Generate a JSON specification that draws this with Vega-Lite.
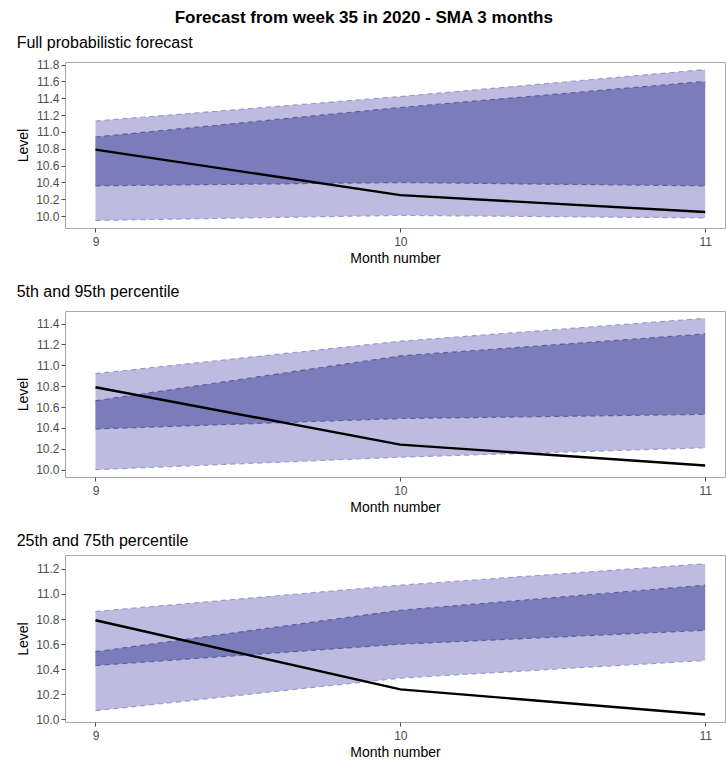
{
  "$schema": "https://vega.github.io/schema/vega-lite/v6.json",
  "padding": {"left": 16, "top": 9, "right": 0, "bottom": 0},
  "background": "white",
  "title": {"text": "Forecast from week 35 in 2020 - SMA 3 months", "font": "Liberation Sans", "fontSize": 17, "fontWeight": "bold", "color": "black", "anchor": "middle", "offset": 7, "dx": -7},
  "config": {
    "font": "Liberation Sans",
    "view": {"stroke": "#a8a8a8", "strokeWidth": 1},
    "axis": {"grid": false, "domain": false, "labelOverlap": false, "labelFont": "Liberation Sans", "labelFontSize": 12, "labelColor": "#4d4d4d", "tickColor": "#4d4d4d", "tickSize": 4, "labelPadding": 2, "titleFont": "Liberation Sans", "titleFontSize": 14, "titleFontWeight": "normal", "titleColor": "black"},
    "title": {"font": "Liberation Sans", "fontSize": 16, "fontWeight": "normal", "anchor": "start", "color": "black"},
    "concat": {"spacing": 17}
  },
  "data": {"values": [
    {"panel": "full", "month": 9, "oLo": 9.95, "oHi": 11.13, "iLo": 10.36, "iHi": 10.94, "level": 10.79},
    {"panel": "full", "month": 10, "oLo": 10.01, "oHi": 11.42, "iLo": 10.40, "iHi": 11.29, "level": 10.25},
    {"panel": "full", "month": 11, "oLo": 9.98, "oHi": 11.74, "iLo": 10.36, "iHi": 11.60, "level": 10.05},
    {"panel": "p5", "month": 9, "oLo": 10.0, "oHi": 10.92, "iLo": 10.39, "iHi": 10.66, "level": 10.79},
    {"panel": "p5", "month": 10, "oLo": 10.12, "oHi": 11.23, "iLo": 10.49, "iHi": 11.09, "level": 10.24},
    {"panel": "p5", "month": 11, "oLo": 10.21, "oHi": 11.45, "iLo": 10.53, "iHi": 11.30, "level": 10.04},
    {"panel": "p25", "month": 9, "oLo": 10.07, "oHi": 10.86, "iLo": 10.43, "iHi": 10.54, "level": 10.79},
    {"panel": "p25", "month": 10, "oLo": 10.33, "oHi": 11.07, "iLo": 10.60, "iHi": 10.87, "level": 10.24},
    {"panel": "p25", "month": 11, "oLo": 10.47, "oHi": 11.24, "iLo": 10.71, "iHi": 11.07, "level": 10.04}
  ]},
  "vconcat": [
    {
      "title": {"text": "Full probabilistic forecast", "offset": 8},
      "width": 660, "height": 166,
      "transform": [{"filter": "datum.panel == 'full'"}],
      "encoding": {
        "x": {"field": "month", "type": "quantitative", "scale": {"domain": [8.9, 11.065], "nice": false, "zero": false}, "axis": {"values": [9, 10, 11], "format": "d", "title": "Month number", "labelPadding": 4, "titlePadding": 4, "labelOverlap": false}}
      },
      "layer": [
        {"mark": {"type": "area", "color": "#bdbce0", "opacity": 1}, "encoding": {"y": {"field": "oLo", "type": "quantitative", "scale": {"domain": [9.86, 11.83], "nice": false, "zero": false}, "axis": {"values": [10, 10.2, 10.4, 10.6, 10.8, 11, 11.2, 11.4, 11.6, 11.8], "format": ".1f", "title": "Level", "titlePadding": 5, "labelOverlap": false}}, "y2": {"field": "oHi"}}},
        {"mark": {"type": "area", "color": "#7b7cba", "opacity": 1}, "encoding": {"y": {"field": "iLo", "type": "quantitative", "axis": {"values": [10, 10.2, 10.4, 10.6, 10.8, 11, 11.2, 11.4, 11.6, 11.8], "format": ".1f", "title": "Level", "titlePadding": 5, "labelOverlap": false}}, "y2": {"field": "iHi"}}},
        {"mark": {"type": "line", "color": "#9a98cc", "strokeDash": [5, 4], "strokeWidth": 1.2}, "encoding": {"y": {"field": "oLo", "type": "quantitative", "axis": {"values": [10, 10.2, 10.4, 10.6, 10.8, 11, 11.2, 11.4, 11.6, 11.8], "format": ".1f", "title": "Level", "titlePadding": 5, "labelOverlap": false}}}},
        {"mark": {"type": "line", "color": "#9a98cc", "strokeDash": [5, 4], "strokeWidth": 1.2}, "encoding": {"y": {"field": "oHi", "type": "quantitative", "axis": {"values": [10, 10.2, 10.4, 10.6, 10.8, 11, 11.2, 11.4, 11.6, 11.8], "format": ".1f", "title": "Level", "titlePadding": 5, "labelOverlap": false}}}},
        {"mark": {"type": "line", "color": "#5c5ca3", "strokeDash": [5, 4], "strokeWidth": 1.2}, "encoding": {"y": {"field": "iLo", "type": "quantitative", "axis": {"values": [10, 10.2, 10.4, 10.6, 10.8, 11, 11.2, 11.4, 11.6, 11.8], "format": ".1f", "title": "Level", "titlePadding": 5, "labelOverlap": false}}}},
        {"mark": {"type": "line", "color": "#5c5ca3", "strokeDash": [5, 4], "strokeWidth": 1.2}, "encoding": {"y": {"field": "iHi", "type": "quantitative", "axis": {"values": [10, 10.2, 10.4, 10.6, 10.8, 11, 11.2, 11.4, 11.6, 11.8], "format": ".1f", "title": "Level", "titlePadding": 5, "labelOverlap": false}}}},
        {"mark": {"type": "line", "color": "black", "strokeWidth": 2.4}, "encoding": {"y": {"field": "level", "type": "quantitative", "axis": {"values": [10, 10.2, 10.4, 10.6, 10.8, 11, 11.2, 11.4, 11.6, 11.8], "format": ".1f", "title": "Level", "titlePadding": 5, "labelOverlap": false}}}}
      ]
    },
    {
      "title": {"text": "5th and 95th percentile", "offset": 11},
      "width": 660, "height": 166,
      "transform": [{"filter": "datum.panel == 'p5'"}],
      "encoding": {
        "x": {"field": "month", "type": "quantitative", "scale": {"domain": [8.9, 11.065], "nice": false, "zero": false}, "axis": {"values": [9, 10, 11], "format": "d", "title": "Month number", "labelPadding": 4, "titlePadding": 4, "labelOverlap": false}}
      },
      "layer": [
        {"mark": {"type": "area", "color": "#bdbce0", "opacity": 1}, "encoding": {"y": {"field": "oLo", "type": "quantitative", "scale": {"domain": [9.93, 11.52], "nice": false, "zero": false}, "axis": {"values": [10, 10.2, 10.4, 10.6, 10.8, 11, 11.2, 11.4], "format": ".1f", "title": "Level", "titlePadding": 5, "labelOverlap": false}}, "y2": {"field": "oHi"}}},
        {"mark": {"type": "area", "color": "#7b7cba", "opacity": 1}, "encoding": {"y": {"field": "iLo", "type": "quantitative", "axis": {"values": [10, 10.2, 10.4, 10.6, 10.8, 11, 11.2, 11.4], "format": ".1f", "title": "Level", "titlePadding": 5, "labelOverlap": false}}, "y2": {"field": "iHi"}}},
        {"mark": {"type": "line", "color": "#9a98cc", "strokeDash": [5, 4], "strokeWidth": 1.2}, "encoding": {"y": {"field": "oLo", "type": "quantitative", "axis": {"values": [10, 10.2, 10.4, 10.6, 10.8, 11, 11.2, 11.4], "format": ".1f", "title": "Level", "titlePadding": 5, "labelOverlap": false}}}},
        {"mark": {"type": "line", "color": "#9a98cc", "strokeDash": [5, 4], "strokeWidth": 1.2}, "encoding": {"y": {"field": "oHi", "type": "quantitative", "axis": {"values": [10, 10.2, 10.4, 10.6, 10.8, 11, 11.2, 11.4], "format": ".1f", "title": "Level", "titlePadding": 5, "labelOverlap": false}}}},
        {"mark": {"type": "line", "color": "#5c5ca3", "strokeDash": [5, 4], "strokeWidth": 1.2}, "encoding": {"y": {"field": "iLo", "type": "quantitative", "axis": {"values": [10, 10.2, 10.4, 10.6, 10.8, 11, 11.2, 11.4], "format": ".1f", "title": "Level", "titlePadding": 5, "labelOverlap": false}}}},
        {"mark": {"type": "line", "color": "#5c5ca3", "strokeDash": [5, 4], "strokeWidth": 1.2}, "encoding": {"y": {"field": "iHi", "type": "quantitative", "axis": {"values": [10, 10.2, 10.4, 10.6, 10.8, 11, 11.2, 11.4], "format": ".1f", "title": "Level", "titlePadding": 5, "labelOverlap": false}}}},
        {"mark": {"type": "line", "color": "black", "strokeWidth": 2.4}, "encoding": {"y": {"field": "level", "type": "quantitative", "axis": {"values": [10, 10.2, 10.4, 10.6, 10.8, 11, 11.2, 11.4], "format": ".1f", "title": "Level", "titlePadding": 5, "labelOverlap": false}}}}
      ]
    },
    {
      "title": {"text": "25th and 75th percentile", "offset": 6},
      "width": 660, "height": 167,
      "transform": [{"filter": "datum.panel == 'p25'"}],
      "encoding": {
        "x": {"field": "month", "type": "quantitative", "scale": {"domain": [8.9, 11.065], "nice": false, "zero": false}, "axis": {"values": [9, 10, 11], "format": "d", "title": "Month number", "labelPadding": 4, "titlePadding": 4, "labelOverlap": false}}
      },
      "layer": [
        {"mark": {"type": "area", "color": "#bdbce0", "opacity": 1}, "encoding": {"y": {"field": "oLo", "type": "quantitative", "scale": {"domain": [9.98, 11.31], "nice": false, "zero": false}, "axis": {"values": [10, 10.2, 10.4, 10.6, 10.8, 11, 11.2], "format": ".1f", "title": "Level", "titlePadding": 5, "labelOverlap": false}}, "y2": {"field": "oHi"}}},
        {"mark": {"type": "area", "color": "#7b7cba", "opacity": 1}, "encoding": {"y": {"field": "iLo", "type": "quantitative", "axis": {"values": [10, 10.2, 10.4, 10.6, 10.8, 11, 11.2], "format": ".1f", "title": "Level", "titlePadding": 5, "labelOverlap": false}}, "y2": {"field": "iHi"}}},
        {"mark": {"type": "line", "color": "#9a98cc", "strokeDash": [5, 4], "strokeWidth": 1.2}, "encoding": {"y": {"field": "oLo", "type": "quantitative", "axis": {"values": [10, 10.2, 10.4, 10.6, 10.8, 11, 11.2], "format": ".1f", "title": "Level", "titlePadding": 5, "labelOverlap": false}}}},
        {"mark": {"type": "line", "color": "#9a98cc", "strokeDash": [5, 4], "strokeWidth": 1.2}, "encoding": {"y": {"field": "oHi", "type": "quantitative", "axis": {"values": [10, 10.2, 10.4, 10.6, 10.8, 11, 11.2], "format": ".1f", "title": "Level", "titlePadding": 5, "labelOverlap": false}}}},
        {"mark": {"type": "line", "color": "#5c5ca3", "strokeDash": [5, 4], "strokeWidth": 1.2}, "encoding": {"y": {"field": "iLo", "type": "quantitative", "axis": {"values": [10, 10.2, 10.4, 10.6, 10.8, 11, 11.2], "format": ".1f", "title": "Level", "titlePadding": 5, "labelOverlap": false}}}},
        {"mark": {"type": "line", "color": "#5c5ca3", "strokeDash": [5, 4], "strokeWidth": 1.2}, "encoding": {"y": {"field": "iHi", "type": "quantitative", "axis": {"values": [10, 10.2, 10.4, 10.6, 10.8, 11, 11.2], "format": ".1f", "title": "Level", "titlePadding": 5, "labelOverlap": false}}}},
        {"mark": {"type": "line", "color": "black", "strokeWidth": 2.4}, "encoding": {"y": {"field": "level", "type": "quantitative", "axis": {"values": [10, 10.2, 10.4, 10.6, 10.8, 11, 11.2], "format": ".1f", "title": "Level", "titlePadding": 5, "labelOverlap": false}}}}
      ]
    }
  ]
}
